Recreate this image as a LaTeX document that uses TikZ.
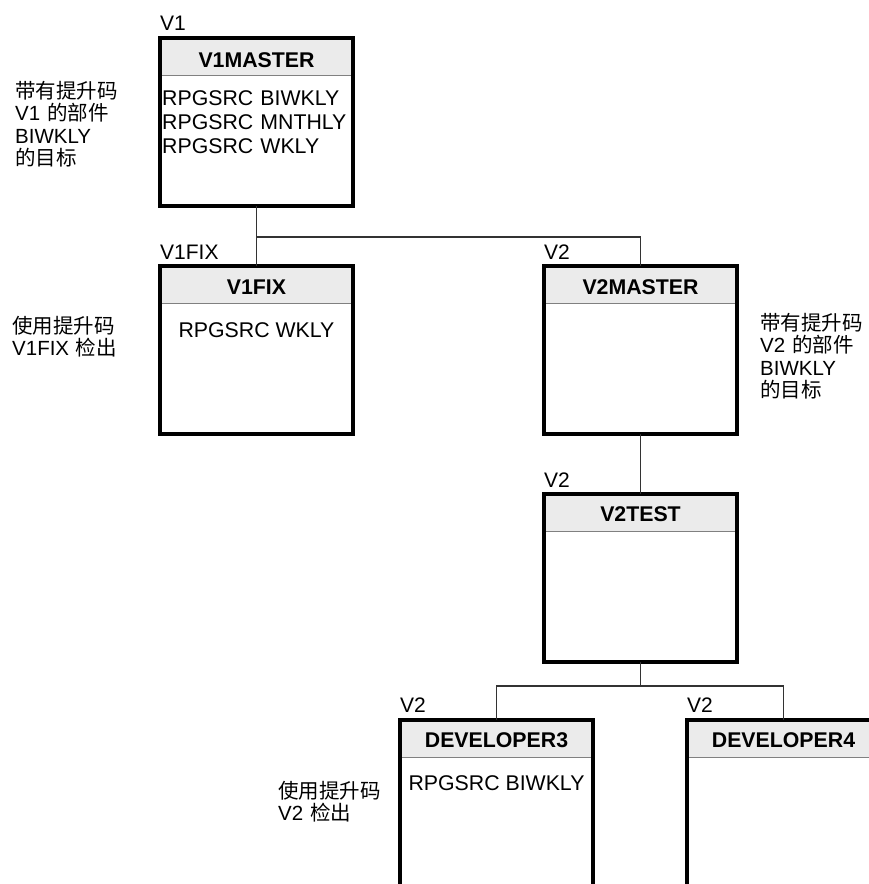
\documentclass[tikz,border=0pt]{standalone}
\usepackage{fontspec}
\setmainfont{Liberation Sans}
\newfontfamily\cjk{Noto Sans CJK SC}
\newcommand{\zh}[1]{{\cjk #1}}
\usetikzlibrary{backgrounds}
\definecolor{hdrgray}{HTML}{EBEBEB}
\definecolor{sepgray}{HTML}{808080}
\definecolor{conngray}{HTML}{333333}
\tikzset{
  box/.style={draw=black, line width=3.2pt, minimum width=193pt, anchor=north west, inner sep=0pt, outer sep=0pt},
  hdr/.style={fill=hdrgray},
  sep/.style={draw=sepgray, line width=1pt},
  conn/.style={draw=conngray, line width=1.2pt},
  title/.style={font=\fontsize{21.3}{24}\selectfont\bfseries, anchor=base, inner sep=0pt},
  body/.style={font=\fontsize{21.3}{24}\selectfont, anchor=base west, inner sep=0pt, text width=200pt, align=left},
  bodyc/.style={font=\fontsize{21.3}{24}\selectfont, anchor=base, inner sep=0pt},
  ver/.style={font=\fontsize{21}{24}\selectfont, anchor=base west, inner sep=0pt},
  note/.style={font=\fontsize{20.5}{22.5}\selectfont, anchor=base west, inner sep=0pt, text width=140pt, align=left},
}
\begin{document}
\begin{tikzpicture}[x=1pt, y=-1pt]
\useasboundingbox (0,0) rectangle (869,884);
\clip (0,0) rectangle (869,884);

% boxes
\node[box, minimum height=168pt] (v1m) at (160,38) {};
\node[box, minimum height=168pt] (v1f) at (160,266) {};
\node[box, minimum height=168pt] (v2m) at (544,266) {};
\node[box, minimum height=168pt] (v2t) at (544,494) {};
\node[box, minimum height=220pt] (d3) at (400,720) {};
\node[box, minimum height=220pt] (d4) at (687,720) {};

% headers
\begin{scope}[on background layer]
\foreach \b in {v1m,v1f,v2m,v2t,d3,d4}{
  \fill[hdr] (\b.north west) rectangle ([yshift=-37pt]\b.north east);
  \draw[sep] ([yshift=-37pt]\b.north west) -- ([yshift=-37pt]\b.north east);
}
\end{scope}

% titles
\node[title] (t1) at (256.5,67) {V1MASTER};
\node[title] (t2) at (256.5,294) {V1FIX};
\node[title] (t3) at (640.5,294) {V2MASTER};
\node[title] (t4) at (640.5,521) {V2TEST};
\node[title] (t5) at (496.5,747) {DEVELOPER3};
\node[title] (t6) at (783.5,747) {DEVELOPER4};

% version labels
\node[ver] (l1) at (160,30) {V1};
\node[ver] (l2) at (160,259) {V1FIX};
\node[ver] (l3) at (544,259) {V2};
\node[ver] (l4) at (544,487) {V2};
\node[ver] (l5) at (400,712) {V2};
\node[ver] (l6) at (687,712) {V2};

% body texts
\node[body] (b1) at (162,105) {RPGSRC BIWKLY\\RPGSRC MNTHLY\\RPGSRC WKLY};
\node[bodyc] (b2) at (256.5,337) {RPGSRC WKLY};
\node[bodyc] (b3) at (496.5,790) {RPGSRC BIWKLY};

% notes
\node[note] (n1) at (15,98) {\zh{带有提升码}\\V1 \zh{的部件}\\BIWKLY\\\zh{的目标}};
\node[note] (n2) at (12,333) {\zh{使用提升码}\\V1FIX \zh{检出}};
\node[note] (n3) at (760,330) {\zh{带有提升码}\\V2 \zh{的部件}\\BIWKLY\\\zh{的目标}};
\node[note] (n4) at (278,798) {\zh{使用提升码}\\V2 \zh{检出}};

% connectors
\coordinate (j1) at (256.5,237);
\coordinate (j2) at (640.5,686);
\draw[conn] (v1m.south) -- (j1) -- (v1f.north);
\draw[conn] (j1) -| (v2m.north);
\draw[conn] (v2m.south) -- (v2t.north);
\draw[conn] (v2t.south) -- (j2);
\draw[conn] (j2) -| (d3.north);
\draw[conn] (j2) -| (d4.north);
\end{tikzpicture}
\end{document}
